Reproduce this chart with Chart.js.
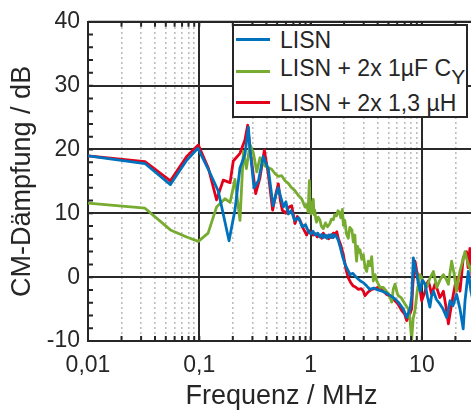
<!DOCTYPE html>
<html><head><meta charset="utf-8">
<script src="https://cdn.jsdelivr.net/npm/chart.js@4"></script>
<style>
html,body{margin:0;padding:0;background:#fff;overflow:hidden;}
#wrap{position:relative;width:480px;height:412px;}
#legend{position:absolute;left:232px;top:24px;width:232px;height:90px;border:2px solid #262626;background:#fff;font-family:"Liberation Sans",Arial,sans-serif;font-size:23px;color:#262626;}
.sw{position:absolute;left:2px;width:34px;height:3px;}
.tx{position:absolute;left:46px;white-space:nowrap;line-height:28px;height:28px;}
.sub{font-size:21px;position:relative;top:8px;}
</style></head>
<body><div id="wrap"><canvas id="c" width="480" height="412"></canvas>
<div id="legend">
<div class="sw" style="top:12px;background:#0072BD"></div><div class="tx" style="top:0px">LISN</div>
<div class="sw" style="top:44px;background:#77AC30"></div><div class="tx" style="top:28px">LISN + 2x 1µF C<span class="sub">Y</span></div>
<div class="sw" style="top:75px;background:#E3001B"></div><div class="tx" style="top:63px">LISN + 2x 1,3 µH</div>
</div></div>
<script>
// ---- data (frequency in MHz, attenuation in dB) ----
const lisnFreq=[0.01,0.0325,0.055,0.077,0.097,0.1205,0.148,0.185,0.209,0.232,0.257,0.276,0.285,0.31,0.34,0.375,0.417,0.46,0.49,0.513,0.54,0.57,0.6,0.63,0.67,0.72,0.78,0.84,0.9,0.96,1.0,1.05,1.1,1.16,1.21,1.26,1.3,1.35,1.4,1.45,1.5,1.55,1.6,1.65,1.7,1.77,1.84,1.94,2.04,2.15,2.26,2.4,2.6,2.8,3.0,3.2,3.4,3.7,4.0,4.4,4.8,5.2,5.73,6.2,6.81,7.3,7.82,8.1,8.38,8.7,8.98,9.3,9.62,10.1,10.7,11.2,11.8,12.2,12.7,13.5,14.5,15.5,16.7,17.9,19,20.5,22,23.5,24.4,25.2,26.1,27.6,29];
const lisnDb=[19.0,17.8,14.5,18.3,20.2,16.9,13.5,5.7,10.5,17.1,19.2,23.5,20.2,14.0,15.1,18.9,16.9,11.2,13.0,14.0,12.5,11.0,11.8,9.9,10.4,8.9,9.3,7.9,8.2,7.1,6.8,7.2,6.6,6.9,6.3,6.7,6.2,6.6,6.1,6.6,6.2,6.7,6.2,6.6,6.4,5.8,4.8,3.2,2.0,1.2,0.4,0.6,-0.1,-0.6,-0.9,-1.4,-1.9,-1.7,-2.0,-2.2,-2.5,-2.9,-3.4,-4.0,-5.0,-6.3,-5.0,-3.0,3.0,1.5,0.4,-1.0,-2.2,-0.5,-1.1,-3.0,-4.7,-3.0,-2.2,-3.5,-4.2,-5.0,-6.3,-3.7,-4.5,-2.7,-5.0,-8.1,-3.7,-1.5,0.9,-2.2,-4.0];

const cyFreq=[0.01,0.0325,0.055,0.077,0.098,0.12,0.143,0.17,0.189,0.209,0.232,0.249,0.265,0.285,0.306,0.328,0.351,0.389,0.447,0.48,0.513,0.55,0.589,0.63,0.676,0.72,0.777,0.83,0.891,0.93,0.95,0.975,0.99,1.01,1.035,1.057,1.075,1.09,1.11,1.13,1.17,1.21,1.25,1.3,1.36,1.42,1.49,1.54,1.6,1.65,1.71,1.76,1.81,1.87,1.93,1.97,2.03,2.1,2.18,2.25,2.35,2.42,2.5,2.55,2.59,2.65,2.72,2.78,2.88,2.98,3.08,3.19,3.3,3.42,3.54,3.66,3.8,3.93,4.2,4.5,4.8,5.1,5.35,5.54,5.73,6.0,6.14,6.5,7.05,7.55,7.8,8.09,8.35,8.67,9.1,9.62,10.2,11.0,11.8,12.7,13.6,14.5,15.6,16.5,17.3,18.5,19.5,20.5,21.2,22.0,23.2,24.4,25.2,26.1,27.6,29];
const cyDb=[11.6,10.8,7.4,6.3,5.6,6.9,11.0,12.3,11.7,15.3,8.9,19.7,17.0,20.8,19.5,16.5,18.7,17.4,16.9,16.2,15.8,15.9,15.1,14.7,14.0,13.6,12.8,12.3,11.0,11.4,10.2,15.1,10.5,9.9,11.5,12.2,9.8,10.5,9.2,8.6,9.4,9.0,8.0,7.6,8.5,7.9,8.4,9.1,9.0,9.8,9.6,10.4,10.2,9.3,10.6,8.1,8.9,6.8,6.1,7.8,7.4,5.5,6.6,3.8,2.5,4.8,3.9,4.3,2.8,3.5,1.6,0.9,2.5,1.8,3.2,-0.6,0.4,-0.6,-1.6,-1.6,-2.2,-2.8,-3.9,-1.8,-1.1,-2.5,-2.9,-3.2,-4.2,-5.0,-6.5,-9.8,-6.5,-5.2,-2.0,0.4,-0.5,-1.6,-0.2,0.9,-1.6,-0.5,0.4,-0.3,-1.1,2.5,0.5,-2.2,-0.5,1.0,2.5,4.0,3.0,2.0,1.0,3.0];

const indFreq=[0.01,0.0325,0.055,0.077,0.098,0.1205,0.143,0.164,0.189,0.202,0.232,0.257,0.272,0.285,0.321,0.351,0.384,0.417,0.456,0.49,0.513,0.535,0.557,0.597,0.64,0.676,0.724,0.76,0.803,0.86,0.922,0.96,1.0,1.05,1.1,1.15,1.21,1.26,1.3,1.35,1.39,1.45,1.5,1.56,1.6,1.66,1.72,1.77,1.87,1.97,2.08,2.18,2.3,2.42,2.55,2.69,2.85,2.98,3.08,3.3,3.54,3.8,4.06,4.4,4.83,5.2,5.73,6.1,6.58,7.0,7.3,7.7,8.09,8.3,8.67,8.98,9.29,9.62,9.96,10.3,10.7,11.0,11.4,11.8,12.2,12.6,13.1,13.8,14.5,15.0,15.6,16.4,17.3,18.5,19.5,20.5,21.2,22.0,22.8,23.5,25.2,26,27,28.5];
const indDb=[19.0,18.1,15.1,18.9,20.7,17.1,12.1,15.2,14.8,18.2,19.4,21.5,23.8,20.2,13.1,15.6,19.9,16.1,10.5,13.2,14.6,12.0,10.5,10.0,11.0,11.2,8.4,9.5,8.9,7.6,6.6,7.3,7.1,6.6,6.8,6.3,6.6,6.1,6.9,6.3,6.5,6.0,6.6,6.2,6.9,6.8,7.1,6.1,5.0,3.5,1.2,-0.1,-0.9,-1.4,-1.6,-1.9,-1.8,-2.2,-2.9,-2.3,-1.9,-1.8,-1.6,-2.0,-2.7,-3.0,-3.7,-4.2,-5.2,-5.8,-6.8,-6.0,-5.0,-1.0,2.5,1.0,-0.1,-2.0,-3.7,-3.0,-2.2,-1.2,-0.6,-1.5,-2.7,-2.0,-1.1,-2.0,-3.2,-2.8,-2.2,-4.5,-7.3,-4.2,-2.0,-0.1,-1.0,-2.2,0.5,3.0,4.0,1.5,4.5,-1.0];

const seriesLabels=['LISN','LISN + 2x 1µF C_Y','LISN + 2x 1,3 µH'];
const majorTicks=[0.01,0.1,1,10];
const xTickLabels=['0,01','0,1','1','10'];
const minorTicks=[0.02,0.03,0.04,0.05,0.06,0.07,0.08,0.09,0.2,0.3,0.4,0.5,0.6,0.7,0.8,0.9,2,3,4,5,6,7,8,9,20];
const yTicks=[-10,0,10,20,30,40];
const yMinorTicks=[-8,-6,-4,-2,2,4,6,8,12,14,16,18,22,24,26,28,32,34,36,38];

const FAM='"Liberation Sans", Arial, sans-serif';
const TXT='#262626';
const pts=(f,d)=>f.map((x,i)=>({x:x,y:d[i]}));

const tickPlugin={id:'inTicks',afterDatasetsDraw(chart){
  const {ctx,chartArea:a,scales}=chart; const x=scales.x,y=scales.y;
  ctx.save(); ctx.strokeStyle=TXT; ctx.lineWidth=2; ctx.beginPath();
  ctx.moveTo(a.left,a.top); ctx.lineTo(a.right,a.top);
  majorTicks.concat(minorTicks).forEach(v=>{const p=x.getPixelForValue(v);
    ctx.moveTo(p,a.bottom); ctx.lineTo(p,a.bottom-5); ctx.moveTo(p,a.top); ctx.lineTo(p,a.top+5);});
  yTicks.concat(yMinorTicks).forEach(v=>{const p=y.getPixelForValue(v);
    ctx.moveTo(a.left,p); ctx.lineTo(a.left+5,p);});
  ctx.stroke(); ctx.restore();
}};

const ds=(label,data,color)=>({label,data,borderColor:color,borderWidth:2.8,pointRadius:0,tension:0,fill:false,borderJoinStyle:'round'});

new Chart(document.getElementById('c'),{
  type:'line',
  data:{datasets:[
    ds(seriesLabels[0],pts(lisnFreq,lisnDb),'#0072BD'),
    ds(seriesLabels[1],pts(cyFreq,cyDb),'#77AC30'),
    ds(seriesLabels[2],pts(indFreq,indDb),'#E3001B')
  ]},
  options:{
    responsive:false,animation:false,
    layout:{padding:{top:16,right:5,left:0,bottom:0}},
    plugins:{legend:{display:false},tooltip:{enabled:false}},
    scales:{
      x:{type:'logarithmic',min:0.01,max:30,position:'bottom',
        afterBuildTicks:s=>{s.ticks=majorTicks.map(v=>({value:v}));},
        afterFit:s=>{s.height=71;},
        ticks:{autoSkip:false,maxRotation:0,color:TXT,font:{family:FAM,size:23},padding:11,
          callback:(v)=>{const i=majorTicks.indexOf(v);return i<0?'':xTickLabels[i];}},
        grid:{color:'#2a2a2a',lineWidth:2,drawTicks:false},
        border:{display:true,color:TXT,width:2},
        title:{display:true,text:'Frequenz / MHz',color:TXT,font:{family:FAM,size:27},padding:{top:0,bottom:-1}}
      },
      xm:{type:'logarithmic',min:0.01,max:30,position:'top',
        afterBuildTicks:s=>{s.ticks=minorTicks.map(v=>({value:v}));},
        afterFit:s=>{s.height=0;},
        ticks:{display:false},
        grid:{color:'#bdbdbd',lineWidth:1.6,drawTicks:false},
        border:{display:false,dash:[2,3]}
      },
      y:{type:'linear',min:-10,max:40,
        afterBuildTicks:s=>{s.ticks=yTicks.map(v=>({value:v}));},
        afterFit:s=>{s.width=88;},
        ticks:{color:TXT,font:{family:FAM,size:23},padding:8},
        grid:{color:(c)=>(c.tick&&c.tick.value===-10)?'rgba(0,0,0,0)':'#2a2a2a',lineWidth:2,drawTicks:false},
        border:{display:true,color:TXT,width:2},
        title:{display:true,text:'CM-Dämpfung / dB',color:TXT,font:{family:FAM,size:27},padding:{top:6,bottom:0}}
      }
    }
  },
  plugins:[tickPlugin]
});
</script>
</body></html>
